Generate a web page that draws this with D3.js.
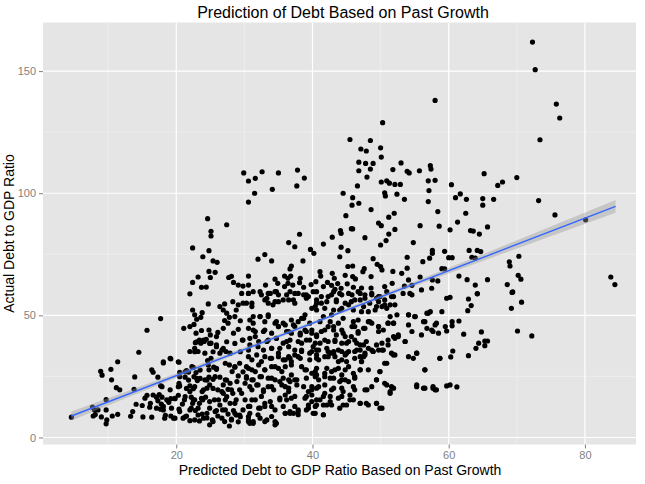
<!DOCTYPE html>
<html>
<head>
<meta charset="utf-8">
<script src="https://cdnjs.cloudflare.com/ajax/libs/d3/7.8.5/d3.min.js"></script>
<style>
  body { margin: 0; background: #fff; }
  svg text { font-family: "Liberation Sans", Arial, Helvetica, sans-serif; }
</style>
</head>
<body>
<div class="chart"></div>
<script>
// tick values and grid lines
const xTicks = [20, 40, 60, 80];
const yTicks = [0, 50, 100, 150];
const xMinor = [10, 30, 50, 70];
const yMinor = [25, 75, 125];

// fitted line and half width of its grey band
const fitX = [4.6, 84.5];
const fitY = [8.8, 94.6];
const bandX = [4.6, 20, 35, 50, 65, 84.5];
const bandHalf = [1.8, 1.0, 0.7, 0.8, 1.4, 2.6];

// [predicted, actual] pairs
const points = [
  // top
  [72.3,161.9],[72.7,150.6],[75.8,136.5],[76.3,130.8],[73.4,121.9],[58.0,138.0],[50.3,128.9],[45.5,122.0],[48.5,121.6],[47.1,118.1],[47.9,117.3],[50.0,118.6],
  // 60 - 117
  [50.1,114.8],[46.8,112.7],[47.8,112.2],[48.9,112.2],[53.0,112.4],[57.3,111.3],[57.4,109.9],[53.9,109.0],[54.2,108.3],[55.7,109.2],[51.8,109.7],[46.8,109.2],[48.5,109.9],
  [32.6,108.8],[35.0,108.3],[37.8,109.5],[38.8,106.2],[37.7,103.0],[31.6,106.1],[30.6,105.0],[29.9,108.3],[31.5,100.0],[30.6,96.4],[34.1,101.6],[48.0,106.6],[46.6,103.0],
  [50.1,104.6],[50.9,105.1],[51.3,104.1],[52.1,103.6],[52.9,103.6],[52.4,99.6],[50.6,100.2],[50.7,98.9],[53.5,97.5],[44.5,100.0],[45.9,98.2],[46.8,95.9],[45.8,95.1],
  [57.0,105.1],[58.0,105.3],[57.1,101.1],[57.0,96.6],[58.4,92.5],[55.8,86.7],[58.6,86.5],[48.6,93.3],[44.9,90.8],[52.0,91.8],[51.2,90.2],[49.7,87.8],[50.1,86.7],
  [52.1,85.2],[51.2,83.3],[45.7,85.5],[45.9,85.4],[44.1,84.7],[44.2,83.6],[47.7,81.8],[50.8,80.6],[50.0,78.8],[54.8,79.8],[57.6,76.6],[57.6,75.4],[57.2,73.4],
  [59.4,76.2],[59.4,69.0],[38.1,83.2],[36.5,79.8],[37.4,78.1],[41.6,79.2],[42.9,82.0],[39.7,77.0],[40.2,75.4],[44.2,77.9],[45.2,76.5],[44.0,74.0],[32.0,73.0],
  [33.0,74.9],[34.0,72.3],[38.6,72.3],[36.9,70.2],[36.7,69.0],[30.6,66.1],[45.9,70.2],[48.9,73.2],[49.5,70.9],[50.0,70.0],[50.2,68.6],[47.6,69.1],[47.4,67.9],
  [45.9,65.9],[46.3,64.9],[45.2,70.0],[41.1,67.9],[41.2,66.1],[42.9,67.2],[43.2,65.2],[42.2,63.5],[42.8,62.3],[43.7,63.0],[43.3,60.7],[40.5,63.8],[39.8,62.6],
  [38.7,61.5],[38.2,65.2],[38.1,63.4],[36.8,66.1],[36.4,65.2],[35.9,66.1],[34.5,64.8],[34.9,63.1],[36.4,63.1],[37.1,62.4],[33.1,62.4],[35.9,61.8],[30.6,62.4],
  [51.8,68.0],[53.1,67.2],[53.9,69.3],[53.9,73.8],[54.1,64.5],[51.7,63.1],[53.5,62.0],[54.6,62.3],[55.8,65.7],[56.2,72.0],[57.6,64.5],[58.4,64.1],[59.0,69.1],
  [47.2,61.2],[48.6,61.2],[50.6,61.8],[48.6,65.9],[44.8,66.4],[45.1,62.9],[46.0,61.5],[41.6,61.8],[44.2,61.1],[56.0,60.4],[57.5,61.1],
  // right side
  [65.2,108.0],[67.9,104.6],[67.2,103.2],[70.0,106.4],[60.4,103.5],[61.7,99.7],[61.0,98.2],[62.6,97.5],[65.0,97.8],[65.0,95.1],[66.6,97.5],[73.2,97.0],[62.5,91.8],
  [61.3,88.2],[60.2,85.0],[63.2,84.7],[63.6,84.5],[64.5,83.3],[65.7,86.2],[75.6,91.1],[80.1,89.1],[63.0,76.6],[64.2,76.6],[64.7,76.1],[60.0,73.6],[60.5,73.6],
  [63.4,73.8],[63.9,73.4],[70.3,74.2],[68.9,71.9],[69.0,70.2],[61.5,66.1],[62.7,64.6],[63.9,62.4],[65.7,64.6],[68.6,62.6],[70.2,66.4],[70.6,64.8],[69.4,59.6],
  [64.2,58.9],[83.8,65.7],[84.4,62.6],
  [59.7,57.0],[60.2,57.4],[62.9,56.7],[64.2,58.8],[63.3,54.0],[62.8,51.9],[69.3,59.4],[70.7,55.4],[69.2,52.9],[60.5,47.4],[61.5,47.7],[60.5,45.7],[59.7,43.6],
  [62.2,42.3],[64.8,43.2],[70.1,43.6],[72.2,41.6],[64.4,38.6],[65.3,39.5],[65.7,39.5],[65.3,37.6],[64.0,36.5],[60.6,35.4],[60.3,33.0],[62.9,33.5],[59.7,21.1],
  [60.2,21.5],[61.2,20.7],
  // left, 58 - 90
  [24.6,89.6],[27.4,87.1],[25.1,84.4],[25.1,82.5],[22.4,77.6],[24.8,76.5],[23.9,74.0],[25.4,72.3],[26.0,71.7],[24.8,68.0],[25.7,67.6],[23.2,65.7],[22.4,63.5],
  [25.0,65.5],[27.7,65.5],[28.1,66.0],[28.4,63.5],[29.1,62.4],[23.7,61.5],[24.4,61.6],[22.0,58.8],[29.8,62.0],[29.6,59.0],
  // left, below 56
  [24.7,54.7],[17.7,48.7],[15.7,43.9],[14.5,34.9],[11.4,31.0],[8.9,27.1],[9.1,25.5],[10.4,27.9],[10.5,23.6],[11.2,20.4],[11.7,19.5],[9.7,15.5],[13.9,24.8],
  [13.8,19.7],[16.4,27.7],[16.6,26.7],[17.3,24.7],[17.7,21.2],[18.1,30.5],[19.2,32.2],[20.4,30.8],[20.5,26.7],[21.5,27.4],[22.5,28.7],[4.6,8.3],[7.7,12.4],
  [8.0,11.3],[7.8,8.8],[8.1,9.4],[8.5,11.3],[9.0,8.4],[9.8,7.2],[9.7,5.6],[10.6,8.8],[11.4,9.5],[9.7,11.3],[13.3,8.7],[13.6,10.6],[14.1,13.6],[15.0,13.1],
  [15.1,8.4],[15.4,16.1],[15.7,17.3],[16.4,8.3],[16.1,12.4],[16.2,14.0],[16.6,17.4],[17.1,16.5],[17.5,17.6],[17.9,16.5],[17.3,15.0],[17.8,13.7],[17.1,12.0],
  [17.7,11.6],[18.1,12.7],[18.4,9.1],[19.2,8.8],[19.6,7.9],[18.9,14.4],[19.2,15.9],[19.8,15.9],[20.3,17.3],[20.4,22.2],[20.5,21.1],[21.3,24.7],[21.8,26.8],
  [20.4,11.6],[21.0,7.9],[21.5,8.8],[20.9,13.7],[21.2,15.4],[22.0,18.8],[22.5,20.0],[22.0,21.1],[22.6,24.9],[23.1,23.3],[23.5,24.2],[22.9,26.6],[22.2,16.5],
  [22.7,15.4],[22.4,14.0],[22.2,12.0],[22.8,11.0],[23.2,9.2],[22.0,6.9],[23.4,14.0],[23.9,15.4],[24.3,16.5],[23.8,18.8],[24.5,20.2],[24.9,21.5],[24.2,23.6],
  [24.8,24.7],[25.4,23.8],[24.8,27.7],[25.5,28.8],[25.9,27.9],[24.6,31.5],[25.1,32.4],[22.0,35.2],[22.7,36.5],[23.2,35.2],[23.6,38.6],[22.8,38.8],[23.4,39.9],
  [24.1,39.3],[21.1,44.7],[22.0,45.4],[22.6,46.3],[22.9,42.7],[23.7,43.8],[22.7,50.2],[23.0,48.4],[23.6,49.2],[22.4,52.2],[23.8,51.1],[26.4,53.6],[27.1,54.7],
  [26.9,52.2],[27.4,50.9],[27.8,49.2],[27.1,47.9],[27.6,46.8],[26.9,44.7],[26.1,43.0],[25.9,41.3],[24.8,44.0],[25.0,42.0],[24.4,40.2],[25.1,38.6],[25.9,37.9],
  [26.9,36.5],[26.4,34.5],[27.3,35.2],[28.3,55.6],[29.1,54.3],[29.8,55.0],[28.8,52.2],[28.6,49.5],[29.4,47.8],[28.4,42.7],[29.1,44.3],[29.7,39.9],[27.8,29.7],
  [28.6,28.8],[29.3,30.4],[28.2,27.0],[29.1,25.2],[26.4,24.7],[27.2,23.6],[27.9,22.2],[26.9,21.5],[26.1,19.5],[26.9,18.1],[27.6,19.7],[28.3,18.1],[29.3,19.5],
  [25.6,15.4],[26.4,13.3],[27.2,15.4],[27.9,14.0],[28.8,15.4],[24.9,12.0],[25.9,11.0],[26.8,11.3],[27.6,9.6],[28.4,11.0],[29.3,9.2],[23.8,9.6],[24.5,8.0],
  [25.3,7.2],[26.1,8.8],[27.1,6.5],[28.1,7.5],[29.1,6.4],[23.4,6.8],[24.9,5.2],[28.8,9.2],[27.8,4.7],
  // centre, below 60
  [30.6,59.0],[31.3,59.7],[32.5,58.4],[33.5,59.0],[34.5,59.7],[35.0,58.4],[36.7,59.7],[37.9,59.0],[39.4,57.7],[33.0,56.3],[33.5,55.0],[34.2,54.3],[35.0,55.6],
  [36.5,56.3],[37.4,55.0],[39.1,58.4],[40.6,59.7],[40.6,56.3],[41.3,55.0],[42.3,57.7],[43.1,59.7],[43.5,56.3],[44.3,58.4],[44.8,55.0],[45.8,58.4],[46.2,56.3],
  [47.0,59.0],[47.7,57.0],[48.7,58.4],[49.4,57.0],[49.9,57.7],[50.6,56.3],[51.6,57.7],[30.3,55.0],[31.1,53.6],[40.4,53.6],[41.8,52.9],[43.1,52.2],[44.3,52.9],
  [46.0,52.2],[47.5,53.6],[48.2,51.5],[49.4,53.6],[50.9,52.9],[52.1,54.3],[53.3,59.0],[54.3,59.0],
  [31.3,49.5],[32.3,49.5],[33.5,50.2],[31.3,46.8],[33.0,47.4],[34.5,46.8],[35.0,45.4],[36.0,46.1],[37.2,46.1],[37.9,47.4],[38.7,48.8],[30.6,44.7],[31.6,43.4],
  [32.8,43.4],[34.0,42.7],[36.2,43.4],[36.9,42.7],[38.2,42.0],[39.1,43.4],[39.9,44.0],[40.6,42.0],[41.3,43.4],[42.3,45.4],[43.1,44.0],[43.5,42.0],[44.5,42.7],
  [45.8,45.4],[46.7,43.4],[47.5,44.7],[48.2,47.4],[48.7,46.8],[49.7,45.4],[50.4,44.0],[51.1,46.8],[51.9,46.8],[52.6,42.0],[53.6,39.3],[54.1,50.2],[55.1,49.5],
  [56.5,47.4],[57.0,50.9],[58.2,46.8],[57.5,44.0],[58.5,42.7],[59.5,45.4],[30.8,40.6],[32.1,39.3],[33.3,39.3],[34.7,40.6],[35.7,38.6],[36.7,39.9],[38.4,38.6],
  [39.6,39.9],[40.1,37.2],[41.1,38.6],[42.3,39.3],[43.3,39.9],[44.3,38.6],[45.3,39.3],[46.2,39.9],[47.0,37.9],[47.9,39.3],[48.7,35.8],[49.4,37.9],[50.2,38.6],
  [51.1,39.9],[51.9,41.3],[32.8,35.8],[34.0,36.5],[35.2,36.5],[36.5,37.2],[37.4,35.8],[38.4,35.2],[39.9,35.2],[40.6,35.8],[42.3,35.2],[43.1,35.2],[43.8,35.8],
  [45.3,35.2],[46.5,35.8],[47.0,33.1],[47.7,34.5],[48.9,35.2],[50.2,35.8],[51.6,34.5],[55.3,34.5],[54.1,33.1],
  [30.6,33.1],[31.8,33.8],[33.0,33.1],[34.0,32.4],[35.0,33.1],[36.0,31.8],[36.7,32.4],[37.9,33.1],[39.6,31.8],[40.6,33.8],[40.9,31.8],[41.8,33.1],[42.6,34.5],
  [43.3,33.1],[44.3,31.8],[44.8,33.8],[47.5,33.1],[47.2,31.1],[50.6,30.4],[52.1,33.8],[58.7,32.4],[56.5,27.7],[55.3,20.8],[56.3,20.2],[57.7,20.2],[58.2,19.5],
  [30.3,29.0],[31.1,27.7],[32.1,29.7],[33.0,27.7],[34.0,29.0],[35.0,28.3],[36.0,29.0],[36.9,29.7],[38.4,29.0],[39.1,27.7],[40.4,27.0],[40.6,25.6],[42.1,28.3],
  [42.8,27.0],[43.8,28.3],[44.8,27.7],[46.0,26.3],[47.0,27.7],[48.2,27.7],[49.4,23.6],[49.9,27.0],[50.6,22.2],[30.3,24.9],[31.1,23.6],[32.3,24.9],[33.5,24.3],
  [34.5,23.6],[35.7,24.3],[36.7,22.9],[37.4,23.6],[39.1,24.3],[40.4,24.9],[41.8,24.9],[43.1,24.3],[44.3,23.6],[45.3,22.9],[46.2,24.3],[47.7,19.5],[48.7,20.8],
  [30.8,20.8],[31.8,21.5],[32.8,19.5],[34.0,20.8],[35.5,21.5],[36.5,20.2],[37.7,21.5],[38.7,20.8],[39.9,19.5],[40.9,20.8],[41.8,21.5],[43.1,20.2],[44.5,18.8],
  [46.0,20.8],[51.6,20.8],[51.4,18.8],
  [31.1,15.4],[32.5,16.8],[33.8,14.7],[35.2,15.4],[36.0,17.4],[36.9,16.1],[39.1,16.8],[39.9,17.4],[40.6,15.4],[41.6,16.8],[42.6,16.8],[44.3,16.8],[45.5,15.4],
  [46.2,19.5],[30.8,12.7],[32.1,12.0],[33.0,12.7],[34.5,11.3],[35.7,12.7],[36.7,10.6],[37.9,11.3],[39.4,12.0],[40.6,13.3],[41.6,13.3],[42.8,13.3],[44.0,12.0],
  [44.5,13.3],[47.0,14.0],[47.9,14.0],[49.4,14.0],[49.9,12.0],[30.6,8.6],[31.3,6.5],[32.3,7.9],[33.3,7.2],[34.5,6.5],[36.0,9.9],[37.2,9.9],[37.9,9.3],[40.1,9.9],
  [41.6,9.3],[30.8,5.8],[34.5,5.2]
];

// second, closer reading of the crowded core
const pointsCore = [
  [30.6,59.0],[32.3,59.7],[33.8,59.0],[34.7,59.7],[36.2,58.4],[37.4,59.0],[38.7,58.4],[40.1,59.7],[41.3,57.7],[42.8,58.4],[44.0,59.0],[33.3,57.0],[34.5,55.6],
  [35.7,56.3],[37.2,56.3],[39.1,57.0],[40.6,55.0],[42.1,55.6],[43.5,55.6],[31.1,55.0],
  [39.9,52.9],[40.6,52.2],[38.9,50.2],[41.6,49.5],[42.8,50.2],[44.0,52.2],[44.5,48.8],[32.3,49.5],[33.5,49.5],[30.8,48.1],[34.7,47.4],[35.7,46.8],[36.9,48.1],
  [38.4,48.8],[39.6,46.8],[41.1,47.4],[42.6,47.4],[43.8,46.8],
  [31.3,44.0],[33.0,44.0],[35.0,45.4],[36.5,43.4],[37.4,45.4],[38.2,42.7],[38.9,44.0],[39.9,42.7],[40.6,41.3],[41.8,44.0],[43.1,45.4],[44.3,44.0],[31.6,41.3],
  [33.5,39.9],[34.7,40.6],[36.2,39.3],[37.9,39.3],[39.1,39.9],[40.4,38.6],[41.8,39.9],[43.3,39.3],[44.8,41.3],
  [30.8,37.9],[32.0,37.2],[34.0,36.5],[35.0,34.5],[36.5,33.1],[37.4,33.8],[38.4,35.8],[39.6,34.5],[40.9,35.8],[42.1,36.5],[43.1,34.5],[44.3,35.2],[31.1,31.8],
  [32.5,31.1],[33.8,32.4],[35.7,31.8],[36.9,31.1],[38.2,32.4],[40.6,32.4],[42.3,33.1],[43.8,31.1],
  [30.6,28.3],[31.6,27.0],[33.0,27.7],[34.5,29.0],[35.5,27.0],[36.9,25.6],[38.9,27.7],[39.9,26.3],[40.6,28.3],[41.8,26.3],[43.3,27.7],[44.3,25.6],[30.3,24.3],
  [31.3,23.6],[32.5,24.9],[34.0,24.3],[35.2,22.9],[36.5,23.6],[37.7,23.6],[39.9,20.8],[40.9,23.6],[42.6,24.3],[44.0,22.9],[32.0,21.5],[33.5,20.8],[36.0,20.8],
  [31.1,19.5],[32.8,18.8],[34.3,19.5],[36.5,18.8],[39.4,18.8],[40.6,20.2],[41.8,18.1],[42.8,19.5],[44.3,20.2],[31.6,15.4],[33.0,14.0],[35.2,16.1],[36.2,15.4],
  [37.4,16.8],[38.9,16.1],[39.9,14.7],[41.1,15.4],[42.6,14.7],[43.8,16.1],[30.6,12.7],[32.3,12.0],[34.0,12.7],[37.4,12.7],[39.4,13.3],[40.4,12.7],[42.1,13.3],
  [30.8,9.9],[32.0,9.3],[34.0,8.6],[36.0,9.9],[36.7,9.9],[37.9,10.6],[39.1,11.3],[40.4,9.9],[41.6,9.3],[30.6,7.2],[31.3,5.8],[33.0,6.5],[34.7,5.8],
  [45.3,59.0],[46.7,59.7],[47.7,58.4],[48.7,59.0],[49.7,57.7],[50.9,59.7],[51.9,57.7],[54.6,58.4],[45.7,55.6],[47.0,56.3],[48.4,55.0],[49.7,55.6],[50.6,54.3],
  [45.3,54.3],[47.2,51.5],[49.2,52.2],[50.2,53.6],[51.4,54.3],
  [46.7,48.1],[48.4,47.4],[46.0,47.4],[46.2,45.4],[47.7,44.7],[49.7,45.4],[49.7,43.4],[51.1,46.8],[51.9,46.8],[51.4,49.5],[52.4,50.2],[54.1,50.2],[55.0,49.5],
  [56.8,50.9],[57.3,51.5],[59.0,51.5],[56.3,47.4],[58.0,46.1],[56.8,44.7],[54.1,46.1],[54.6,43.4],[56.0,42.0],[57.7,43.4],[46.7,42.7],[45.7,41.3],
  [45.0,38.6],[46.5,38.6],[47.5,37.9],[48.2,36.5],[48.9,35.2],[49.7,35.8],[50.4,35.8],[51.1,37.9],[52.1,40.6],[52.6,41.3],[53.6,39.3],[45.0,34.5],[46.2,35.2],
  [47.0,35.8],[47.7,33.8],[46.2,32.4],[47.2,31.1],[45.0,31.1],[55.3,34.5],[54.8,32.4],[58.7,32.4],[50.9,30.4],[51.9,33.8],
  [45.3,29.0],[47.0,27.7],[49.9,27.0],[44.8,23.6],[46.2,24.9],[49.4,23.6],[50.9,21.5],[51.9,20.2],[55.3,21.5],[56.5,20.2],[57.7,20.8],[58.0,19.5],[56.5,27.7],
  [45.5,17.4],[46.0,15.4],[48.0,19.5],[51.4,18.1],[45.0,13.3],[47.0,14.0],[48.2,13.3],[49.4,14.0],[50.2,12.0],
  [23.0,39.2],[24.0,39.9],[24.9,38.5],[25.9,37.2],[27.4,39.2],[28.6,38.5],[29.8,39.9],[22.7,35.1],[24.2,34.5],[25.4,35.1],[26.7,35.8],[27.9,34.5],[29.4,35.1],
  [30.6,35.8],[18.1,31.0],[19.1,32.4],[20.3,31.0],[21.3,26.9],[22.3,29.0],[23.5,27.6],[24.7,29.7],[25.9,28.3],[27.2,30.4],[28.6,29.0],[29.8,26.9],[20.5,24.9],
  [21.8,23.5],[23.0,24.2],[24.5,23.5],[25.7,24.9],[27.4,23.5],[28.9,22.9],[30.1,22.2],[17.9,20.8],[19.1,19.5],[20.3,20.8],[21.5,20.1],[22.7,20.8],[24.0,19.5],
  [25.4,20.1],[26.7,18.8],[28.1,19.5],[29.6,18.1],[18.6,15.4],[19.8,16.0],[21.3,16.7],[22.5,15.4],[23.7,16.0],[24.9,14.7],[26.2,15.4],[27.4,16.7],[28.6,14.0],
  [30.1,15.4],[18.1,11.3],[19.3,12.0],[20.5,10.6],[22.0,11.3],[23.2,12.0],[24.5,9.9],[25.7,10.6],[27.2,11.3],[28.6,9.9],[29.8,11.3],[18.3,7.9],[19.8,7.9],
  [21.3,8.5],[22.7,7.2],[24.0,7.9],[25.4,6.5],[26.7,7.9],[28.1,7.2],[29.4,8.5],[30.6,6.5]
];

const allPoints = points.concat(pointsCore);

const width = 645, height = 484;
const panel = { left: 43, right: 636, top: 22.5, bottom: 444.5 };
const grey50 = "#7f7f7f";

const x = d3.scaleLinear().domain([0.43, 87.5]).range([panel.left, panel.right]);
const y = d3.scaleLinear().domain([-2.87, 169.9]).range([panel.bottom, panel.top]);
const fit = d3.scaleLinear().domain(fitX).range(fitY);

const svg = d3.select(".chart").append("svg")
  .attr("width", width)
  .attr("height", height);

// panel background
svg.append("rect")
  .attr("x", panel.left)
  .attr("y", panel.top)
  .attr("width", panel.right - panel.left)
  .attr("height", panel.bottom - panel.top)
  .attr("fill", "#e5e5e5");

const grid = svg.append("g");

// minor grid
grid.selectAll(".xminor").data(xMinor).enter().append("line")
  .attr("x1", d => x(d)).attr("x2", d => x(d))
  .attr("y1", panel.top).attr("y2", panel.bottom)
  .attr("stroke", "#f2f2f2").attr("stroke-width", 0.6);
grid.selectAll(".yminor").data(yMinor).enter().append("line")
  .attr("x1", panel.left).attr("x2", panel.right)
  .attr("y1", d => y(d)).attr("y2", d => y(d))
  .attr("stroke", "#f2f2f2").attr("stroke-width", 0.6);

// major grid
grid.selectAll(".xmajor").data(xTicks).enter().append("line")
  .attr("x1", d => x(d)).attr("x2", d => x(d))
  .attr("y1", panel.top).attr("y2", panel.bottom)
  .attr("stroke", "#fff").attr("stroke-width", 1.2);
grid.selectAll(".ymajor").data(yTicks).enter().append("line")
  .attr("x1", panel.left).attr("x2", panel.right)
  .attr("y1", d => y(d)).attr("y2", d => y(d))
  .attr("stroke", "#fff").attr("stroke-width", 1.2);

// points
svg.append("g")
  .selectAll("circle")
  .data(allPoints)
  .enter().append("circle")
  .attr("cx", d => x(d[0]))
  .attr("cy", d => y(d[1]))
  .attr("r", 2.6)
  .attr("fill", "#000");

// confidence band
const band = bandX.map((d, i) => [d, bandHalf[i]]);
svg.append("path")
  .datum(band)
  .attr("fill", "#999")
  .attr("fill-opacity", 0.4)
  .attr("d", d3.area()
    .curve(d3.curveMonotoneX)
    .x(d => x(d[0]))
    .y0(d => y(fit(d[0]) - d[1]))
    .y1(d => y(fit(d[0]) + d[1])));

// fitted line
svg.append("path")
  .datum(fitX)
  .attr("fill", "none")
  .attr("stroke", "#3366ff")
  .attr("stroke-width", 1.4)
  .attr("d", d3.line().x(d => x(d)).y(d => y(fit(d))));

// axes
const xAxis = svg.append("g")
  .attr("transform", "translate(0," + panel.bottom + ")")
  .call(d3.axisBottom(x).tickValues(xTicks).tickSize(4).tickPadding(3));
const yAxis = svg.append("g")
  .attr("transform", "translate(" + panel.left + ",0)")
  .call(d3.axisLeft(y).tickValues(yTicks).tickSize(4).tickPadding(3));

[xAxis, yAxis].forEach(a => {
  a.select(".domain").remove();
  a.selectAll(".tick line").attr("stroke", grey50);
  a.selectAll(".tick text")
    .attr("fill", grey50)
    .style("font-size", "11px")
    .style("font-family", "'Liberation Sans', Arial, Helvetica, sans-serif");
});

// titles
svg.append("text")
  .attr("x", 343)
  .attr("y", 18)
  .attr("text-anchor", "middle")
  .style("font-size", "16px")
  .text("Prediction of Debt Based on Past Growth");

svg.append("text")
  .attr("x", 340)
  .attr("y", 475)
  .attr("text-anchor", "middle")
  .style("font-size", "14px")
  .text("Predicted Debt to GDP Ratio Based on Past Growth");

svg.append("text")
  .attr("transform", "translate(14," + ((panel.top + panel.bottom) / 2) + ") rotate(-90)")
  .attr("text-anchor", "middle")
  .style("font-size", "14px")
  .text("Actual Debt to GDP Ratio");
</script>
</body>
</html>
